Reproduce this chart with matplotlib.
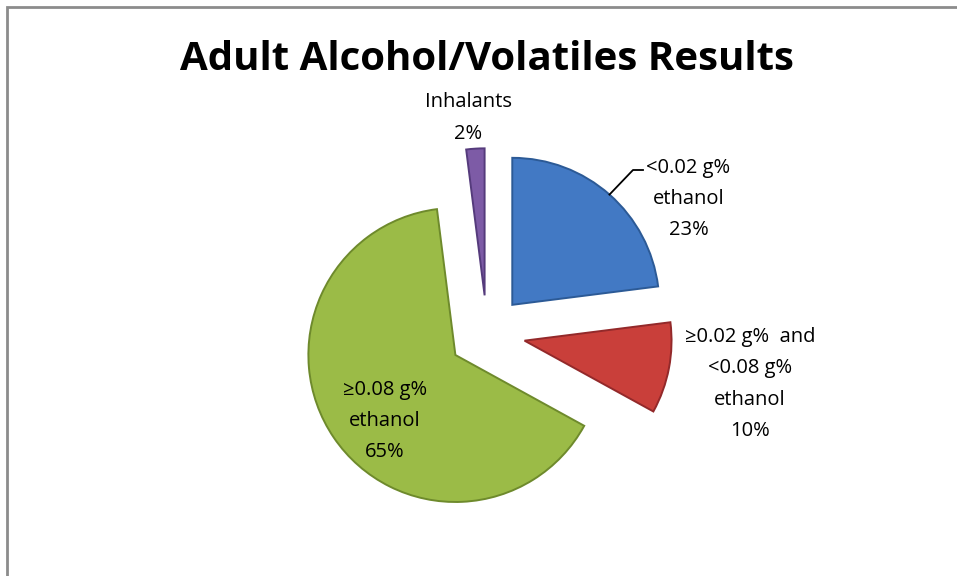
import matplotlib
matplotlib.use("Agg")
import matplotlib.pyplot as plt
from matplotlib.patches import Rectangle
import numpy as np

# data
labels = ["<0.02 g%\nethanol", "\u22650.02 g%  and\n<0.08 g%\nethanol",
          "\u22650.08 g%\nethanol", "Inhalants"]
values = [23, 10, 65, 2]
colors = ["#4279C4", "#C93F3A", "#9BBB47", "#7D5BA6"]
edges = ["#2C5A96", "#93292A", "#6E8A2C", "#553B7C"]
explode = [0.26, 0.26, 0.26, 0.26]

W, H = 957, 576
cx, cy, r = 487, 333.5, 147.0   # pie centre / radius in pixels

plt.rcParams["font.family"] = ["Open Sans", "DejaVu Sans"]

fig = plt.figure(figsize=(W / 100, H / 100), dpi=100)
ax = fig.add_axes([0, 0, 1, 1])

wedges, _ = ax.pie(values, colors=colors, explode=explode, startangle=90,
                   counterclock=False, radius=1.0,
                   wedgeprops=dict(linewidth=1.4))
for w, ec in zip(wedges, edges):
    w.set_edgecolor(ec)

# pie() resets the limits, so set them afterwards
ax.set_xlim(-cx / r, (W - cx) / r)
ax.set_ylim(-(H - cy) / r, cy / r)
ax.set_aspect("auto")
ax.axis("off")

# labels (positions in pie-radius units)
lab_pos = [(1.37, 0.915), (1.79, -0.344), (-0.694, -0.595), (-0.129, 1.466)]
for w, lab, v, (lx, ly) in zip(wedges, labels, values, lab_pos):
    ax.text(lx, ly, f"{lab}\n{v}%", ha="center", va="center",
            fontsize=14.5, linespacing=1.75, color="black")

# leader line for the first slice
w = wedges[0]
mid = np.deg2rad((w.theta1 + w.theta2) / 2)
ox, oy = w.center
px, py = ox + np.cos(mid), oy + np.sin(mid)
ax.plot([px, (633 - cx) / r, (643 - cx) / r],
        [py, (cy - 170) / r, (cy - 170) / r], color="black", lw=1.3)

fig.text(cx / W, 1 - 60 / H, "Adult Alcohol/Volatiles Results",
         ha="center", va="center", fontsize=29, fontweight="bold")

fig.patches.append(Rectangle((7 / W, -0.05), 1.1, 1 - 7 / H + 0.05,
                             transform=fig.transFigure, fill=False,
                             edgecolor="#8C8C8C", linewidth=2))

fig.savefig("out.png", dpi=100)
